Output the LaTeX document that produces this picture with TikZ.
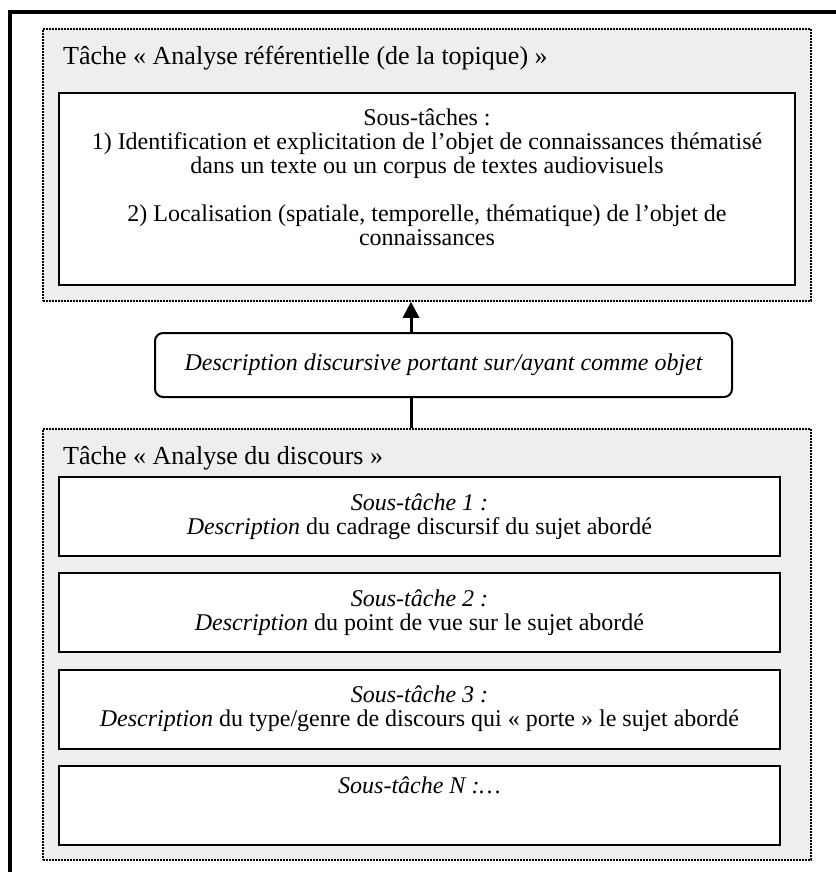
\documentclass[tikz,border=0pt]{standalone}
\usepackage{fontspec}
\setmainfont{Liberation Serif}
\usetikzlibrary{arrows.meta}
\definecolor{taskgray}{HTML}{EEEEEE}

\begin{document}
\begin{tikzpicture}[
        x=1pt, y=-1pt,
        font=\fontsize{24}{24}\selectfont,
        taskframe/.style={draw, fill=taskgray, line width=1.5pt, dash pattern=on 1.6pt off 1.4pt, minimum width=768pt},
        tasktitle/.style={anchor=base west, inner sep=0pt, font=\fontsize{26}{26}\selectfont},
        subtask/.style={draw, fill=white, line width=2pt, minimum width=721pt, minimum height=79pt, align=center, inner sep=0pt},
        linkbox/.style={draw, fill=white, line width=2pt, rounded corners=8pt, minimum width=577pt, minimum height=64pt, font=\fontsize{24}{24}\selectfont\itshape},
        >={Triangle[length=16pt, width=16pt]}
    ]
        \useasboundingbox (0,0) rectangle (835,872);

        % Outer frame
        \draw[line width=4pt] (10,900) |- (900,12);

        % Referential task
        \node[taskframe, minimum height=272pt] (refgroup) at (427,165) {};
        \node[tasktitle] (reftitle) at (63,65) {Tâche « Analyse référentielle (de la topique) »};
        \node[subtask, minimum width=736pt, minimum height=192pt] (refsub) at (427,189)
            {Sous-tâches :\\
             1) Identification et explicitation de l’objet de connaissances thématisé\\
             dans un texte ou un corpus de textes audiovisuels\\[24pt]
             2) Localisation (spatiale, temporelle, thématique) de l’objet de\\
             connaissances\\ \mbox{}};

        % Link
        \node[linkbox] (desc) at (443.5,365) {Description discursive portant sur/ayant comme objet};
        \coordinate (axis) at (411,0);

        % Discourse task
        \node[taskframe, minimum height=431pt] (discgroup) at (427,644.5) {};
        \node[tasktitle] (disctitle) at (63,464) {Tâche « Analyse du discours »};
        \node[subtask] (sub1) at (419.5,516.5)
            {\textit{Sous-tâche 1 :}\\ \textit{Description} du cadrage discursif du sujet abordé};
        \node[subtask] (sub2) at (419.5,612.5)
            {\textit{Sous-tâche 2 :}\\ \textit{Description} du point de vue sur le sujet abordé};
        \node[subtask] (sub3) at (419.5,709)
            {\textit{Sous-tâche 3 :}\\ \textit{Description} du type/genre de discours qui « porte » le sujet abordé};
        \node[subtask] (subn) at (419.5,805)
            {\textit{Sous-tâche N :…}\\[16pt] \mbox{}};

        % Connections
        \draw[->, line width=3pt] (desc.north -| axis) -- (refgroup.south -| axis);
        \draw[line width=3pt] (desc.south -| axis) -- (discgroup.north -| axis);
    \end{tikzpicture}
\end{document}
